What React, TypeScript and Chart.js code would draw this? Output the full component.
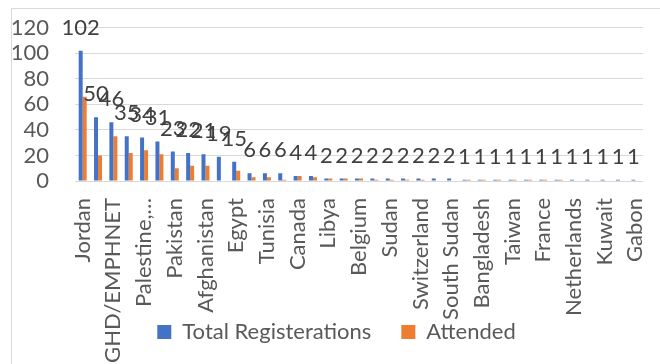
import { useEffect, useRef } from 'react';
import { Chart, registerables } from 'chart.js';

Chart.register(...registerables);

// Countries in descending order of registrations; only every other name is printed on the axis.
const categories = [
  'Jordan', '', 'GHD/EMPHNET', '', 'Palestine,…', '', 'Pakistan', '', 'Afghanistan', '',
  'Egypt', '', 'Tunisia', '', 'Canada', '', 'Libya', '', 'Belgium', '',
  'Sudan', '', 'Switzerland', '', 'South Sudan', '', 'Bangladesh', '', 'Taiwan', '',
  'France', '', 'Netherlands', '', 'Kuwait', '', 'Gabon',
];

const totalRegistrations = [
  102, 50, 46, 35, 34, 31, 23, 22, 21, 19,
  15, 6, 6, 6, 4, 4, 2, 2, 2, 2,
  2, 2, 2, 2, 2, 1, 1, 1, 1, 1,
  1, 1, 1, 1, 1, 1, 1,
];

const attended = [
  66, 20, 35, 22, 24, 21, 10, 12, 12, 0,
  8, 3, 3, 1, 4, 3, 2, 2, 2, 1,
  1, 1, 1, 0, 0, 1, 1, 1, 1, 1,
  1, 1, 0, 0, 0, 0, 0,
];

const seriesNames = ['Total Registerations', 'Attended'];
const seriesColors = ['#4472C4', '#ED7D31'];
const yMax = 120;
const yStep = 20;

const FONT = 'Lato, "Noto Sans", sans-serif';
const TEXT = '#595959';
const GRID = '#d9d9d9';

// Prints the registration count above each blue bar.
const valueLabels = {
  id: 'valueLabels',
  afterDatasetsDraw(chart: any) {
    const meta = chart.getDatasetMeta(0);
    const values = chart.data.datasets[0].data as number[];
    const { ctx } = chart;
    ctx.save();
    ctx.font = `22px ${FONT}`;
    ctx.fillStyle = '#404040';
    ctx.textAlign = 'center';
    ctx.textBaseline = 'middle';
    meta.data.forEach((bar: any, i: number) => {
      ctx.fillText(String(values[i]), bar.x, bar.y - 23);
    });
    ctx.restore();
  },
};

export default function App() {
  const canvasRef = useRef<HTMLCanvasElement | null>(null);

  useEffect(() => {
    if (!canvasRef.current) return;
    const chart = new Chart(canvasRef.current, {
      type: 'bar',
      data: {
        labels: categories,
        datasets: [
          {
            label: seriesNames[0],
            data: totalRegistrations,
            backgroundColor: seriesColors[0],
            categoryPercentage: 0.52,
            barPercentage: 1,
          },
          {
            label: seriesNames[1],
            data: attended,
            backgroundColor: seriesColors[1],
            categoryPercentage: 0.52,
            barPercentage: 1,
          },
        ],
      },
      options: {
        responsive: false,
        animation: false,
        layout: { padding: { top: 18.7, right: 18, bottom: 26, left: 0 } },
        plugins: {
          tooltip: { enabled: false },
          legend: {
            position: 'bottom',
            align: 'center',
            labels: {
              boxWidth: 14,
              boxHeight: 14,
              padding: 30,
              color: TEXT,
              font: { family: FONT, size: 22 },
            },
          },
        },
        scales: {
          x: {
            grid: { display: false, drawTicks: false },
            border: { display: false },
            ticks: {
              autoSkip: false,
              minRotation: 90,
              maxRotation: 90,
              padding: 17,
              color: TEXT,
              font: { family: FONT, size: 22 },
            },
            afterFit(scale: any) {
              scale.height = 110;
              // long names run on past the axis band, down beside the legend
              scale._computeLabelArea = () => undefined;
            },
          },
          y: {
            min: 0,
            max: yMax,
            // an invisible tick mark keeps the labels clear of the plot
            grid: {
              color: GRID,
              lineWidth: 1,
              drawTicks: true,
              tickLength: 26,
              tickColor: 'rgba(0,0,0,0)',
            },
            border: { display: false },
            ticks: {
              stepSize: yStep,
              autoSkip: false,
              padding: 0,
              color: TEXT,
              font: { family: FONT, size: 22 },
            },
            afterFit(scale: any) {
              scale.width = 63;
            },
          },
        },
      },
      plugins: [valueLabels],
    });
    return () => chart.destroy();
  }, []);

  return (
    <div
      style={{
        position: 'fixed',
        left: 0,
        top: 0,
        width: 660,
        height: 364,
        overflow: 'hidden',
        background: '#ffffff',
      }}
    >
      <div
        style={{
          position: 'absolute',
          left: 11,
          top: 8,
          width: 669,
          height: 372,
          border: `1px solid ${GRID}`,
          boxSizing: 'border-box',
        }}
      >
        <canvas
          ref={canvasRef}
          width={667}
          height={370}
          style={{ display: 'block', width: 667, height: 370 }}
        />
      </div>
    </div>
  );
}
